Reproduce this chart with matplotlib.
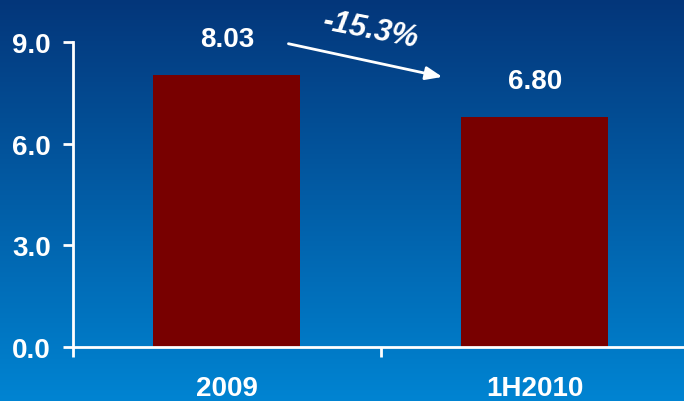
import numpy as np
import matplotlib.pyplot as plt

categories = ["2009", "1H2010"]
values = [8.03, 6.80]
value_labels = ["8.03", "6.80"]
change_label = "-15.3%"
yticks = [0.0, 3.0, 6.0, 9.0]

plt.rcParams['font.family'] = ['Liberation Sans', 'DejaVu Sans']
plt.rcParams['font.weight'] = 'bold'

fig = plt.figure(figsize=(6.84, 4.02), dpi=100)

# gradient background over the whole figure
bg = fig.add_axes([0, 0, 1, 1], zorder=-1)
top_col = np.array([0x04, 0x36, 0x7a]) / 255
bot_col = np.array([0x00, 0x84, 0xd2]) / 255
t = np.linspace(0, 1, 256)[:, None]
grad = top_col[None, :] * (1 - t) + bot_col[None, :] * t
bg.imshow(grad[:, None, :], aspect='auto', extent=[0, 1, 0, 1])
bg.axis('off')

ax = fig.add_axes([0.1067, 0.1343, 0.9, 0.7587])
ax.patch.set_alpha(0)
x = np.arange(len(categories))
ax.bar(x, values, width=0.477, color='#780000', zorder=2)

ax.set_xlim(-0.5, 1.5)
ax.set_ylim(0, 9)
ax.set_yticks(yticks)
ax.set_yticklabels([f"{v:.1f}" for v in yticks], color='white', fontsize=20, fontweight='bold')

ax.set_xticks([-0.5, 0.5, 1.5])
ax.set_xticklabels([])
ax.set_xticks(x, minor=True)
ax.set_xticklabels(categories, minor=True, color='white', fontsize=20, fontweight='bold')
ax.tick_params(axis='x', which='minor', length=0, pad=20)
ax.tick_params(axis='x', which='major', length=7, width=2, color='white', direction='out')
ax.tick_params(axis='y', length=7, width=2, color='white', direction='out', pad=9)

for s in ['top', 'right']:
    ax.spines[s].set_visible(False)
for s in ['left', 'bottom']:
    ax.spines[s].set_color('white')
    ax.spines[s].set_linewidth(2)

for xi, v, lab in zip(x, values, value_labels):
    ax.annotate(lab, (xi, v), xytext=(0, 16.5), textcoords='offset points',
                ha='center', va='bottom', color='white', fontsize=20,
                fontweight='bold', annotation_clip=False)

# change arrow between the bars
ax.annotate('', xy=(0.7, 7.97), xytext=(0.2, 8.95),
            arrowprops=dict(arrowstyle='-|>,head_length=1.0,head_width=0.4',
                            color='white', lw=2, shrinkA=0, shrinkB=0),
            annotation_clip=False)
ax.text(0.465, 9.38, change_label, color='white', fontsize=22, fontweight='bold',
        style='italic', rotation=-11, ha='center', va='center', clip_on=False)

fig.savefig('out.png', dpi=100)
